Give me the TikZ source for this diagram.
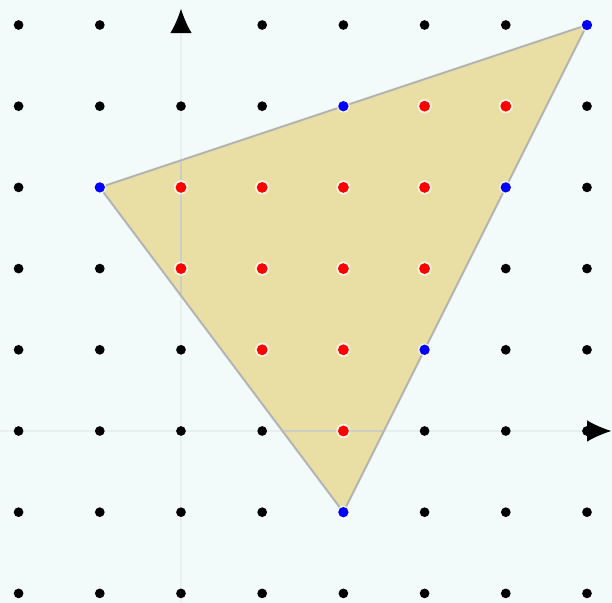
\documentclass[tikz,border=0pt]{standalone}
\usetikzlibrary{arrows.meta}
\definecolor{bgcolor}{HTML}{F2FAFA}
\definecolor{tricolor}{HTML}{E9DEA3}
\definecolor{edgecolor}{HTML}{B4B4B4}
\definecolor{axiscolor}{HTML}{E7EFEF}
\definecolor{inaxis}{HTML}{CDCDC6}

\begin{document}
\begin{tikzpicture}

% Background
    \fill[bgcolor] (-2.229,-2.118) rectangle (5.308,5.308);
    \useasboundingbox (-2.229,-2.118) rectangle (5.308,5.308);

% Axes
    \draw[axiscolor, line width=0.6pt] (0,-2.118) -- (0,5.1);
    \draw[axiscolor, line width=0.6pt] (-2.229,0) -- (5.2,0);

% Triangle
    \coordinate (A) at (-1,3);
    \coordinate (B) at (5,5);
    \coordinate (C) at (2,-1);
    \fill[tricolor] (A) -- (B) -- (C) -- cycle;

    % Axes seen through the triangle
    \begin{scope}
        \clip (A) -- (B) -- (C) -- cycle;
        \draw[inaxis, line width=0.8pt] (0,-2) -- (0,6);
        \draw[inaxis, line width=0.8pt] (-2,0) -- (6,0);
    \end{scope}
    \draw[edgecolor, line width=0.7pt, line join=round] (A) -- (B) -- (C) -- cycle;

% Arrow tips
    \draw[axiscolor, -{Latex[color=black, length=8.5pt, width=7.5pt]}] (0,4.8) -- (0,5.2);
    \draw[axiscolor, -{Latex[color=black, length=8.5pt, width=7.5pt]}] (4.9,0) -- (5.3,0);

% Lattice points
    \foreach \x in {-2,...,5} {
        \foreach \y in {-2,...,5} {
            \fill[black] (\x,\y) circle (1.7pt);
        }
    }

    % Boundary points
    \foreach \p in {(-1,3),(5,5),(2,-1),(2,4),(4,3),(3,1)} {
        \fill[white, opacity=0.6] \p circle (2.3pt);
        \fill[blue] \p circle (1.8pt);
    }

    % Interior points
    \foreach \p in {(3,4),(4,4),(0,3),(1,3),(2,3),(3,3),(0,2),(1,2),(2,2),(3,2),(1,1),(2,1),(2,0)} {
        \fill[white, opacity=0.7] \p circle (2.5pt);
        \fill[red] \p circle (1.9pt);
    }

\end{tikzpicture}
\end{document}
